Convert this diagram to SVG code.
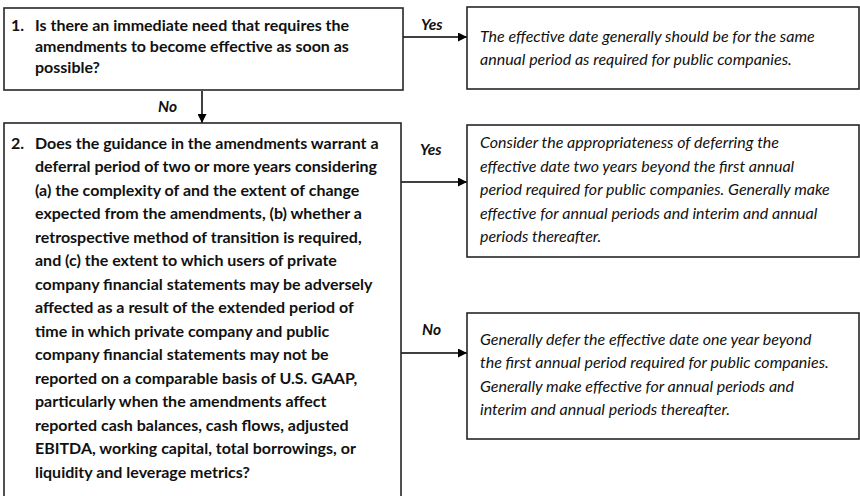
<svg xmlns="http://www.w3.org/2000/svg" width="860" height="496" viewBox="0 0 860 496">
<style>
.box{fill:#fff;stroke:#262626;stroke-width:1.6}
.q{font-family:Lato,"Open Sans",sans-serif;font-weight:bold;font-size:16px;fill:#111}
.a{font-family:Lato,"Open Sans",sans-serif;font-style:italic;font-size:16px;fill:#111}
.lbl{font-family:Lato,"Open Sans",sans-serif;font-weight:bold;font-style:italic;font-size:15.5px;fill:#111}
.conn{stroke:#000;stroke-width:1.5;fill:none;marker-end:url(#ah)}
</style>
<defs>
<marker id="ah" viewBox="0 0 10 10" refX="10" refY="5" markerWidth="9" markerHeight="9" markerUnits="userSpaceOnUse" orient="auto">
<path d="M0,0 L10,5 L0,10 z" fill="#000"/>
</marker>
</defs>
<rect width="860" height="496" fill="#fff"/>
<g id="connectors">
<path class="conn" d="M403,37 H467"/>
<path class="conn" d="M202,91 V123"/>
<path class="conn" d="M401,182 H467"/>
<path class="conn" d="M401,353 H467"/>
<text class="lbl" x="421" y="30">Yes</text>
<text class="lbl" x="158" y="112">No</text>
<text class="lbl" x="420" y="155">Yes</text>
<text class="lbl" x="422" y="335">No</text>
</g>
<g id="q1">
<rect class="box" x="4" y="8" width="399" height="82"/>
<text class="q" x="11" y="31">1.</text>
<text class="q"><tspan x="35" y="31">Is there an immediate need that requires the</tspan><tspan x="35" y="52">amendments to become effective as soon as</tspan><tspan x="35" y="73">possible?</tspan></text>
</g>
<g id="q2">
<rect class="box" x="4" y="123" width="397" height="380"/>
<text class="q" x="11" y="148.5">2.</text>
<text class="q"><tspan x="35" y="148.5">Does the guidance in the amendments warrant a</tspan><tspan x="35" y="172">deferral period of two or more years considering</tspan><tspan x="35" y="195.5">(a) the complexity of and the extent of change</tspan><tspan x="35" y="219">expected from the amendments, (b) whether a</tspan><tspan x="35" y="242.5">retrospective method of transition is required,</tspan><tspan x="35" y="266">and (c) the extent to which users of private</tspan><tspan x="35" y="289.5">company financial statements may be adversely</tspan><tspan x="35" y="313">affected as a result of the extended period of</tspan><tspan x="35" y="336.5">time in which private company and public</tspan><tspan x="35" y="360">company financial statements may not be</tspan><tspan x="35" y="383.5">reported on a comparable basis of U.S. GAAP,</tspan><tspan x="35" y="407">particularly when the amendments affect</tspan><tspan x="35" y="430.5">reported cash balances, cash flows, adjusted</tspan><tspan x="35" y="454">EBITDA, working capital, total borrowings, or</tspan><tspan x="35" y="477.5">liquidity and leverage metrics?</tspan></text>
</g>
<g id="r1">
<rect class="box" x="467" y="7" width="392" height="82"/>
<text class="a"><tspan x="480" y="42">The effective date generally should be for the same</tspan><tspan x="480" y="65">annual period as required for public companies.</tspan></text>
</g>
<g id="r2">
<rect class="box" x="467" y="125" width="392" height="132"/>
<text class="a"><tspan x="480" y="148">Consider the appropriateness of deferring the</tspan><tspan x="480" y="171.5">effective date two years beyond the first annual</tspan><tspan x="480" y="195">period required for public companies. Generally make</tspan><tspan x="480" y="218.5">effective for annual periods and interim and annual</tspan><tspan x="480" y="242">periods thereafter.</tspan></text>
</g>
<g id="r3">
<rect class="box" x="467" y="313" width="392" height="126"/>
<text class="a"><tspan x="480" y="345">Generally defer the effective date one year beyond</tspan><tspan x="480" y="368">the first annual period required for public companies.</tspan><tspan x="480" y="392">Generally make effective for annual periods and</tspan><tspan x="480" y="415">interim and annual periods thereafter.</tspan></text>
</g>
</svg>
